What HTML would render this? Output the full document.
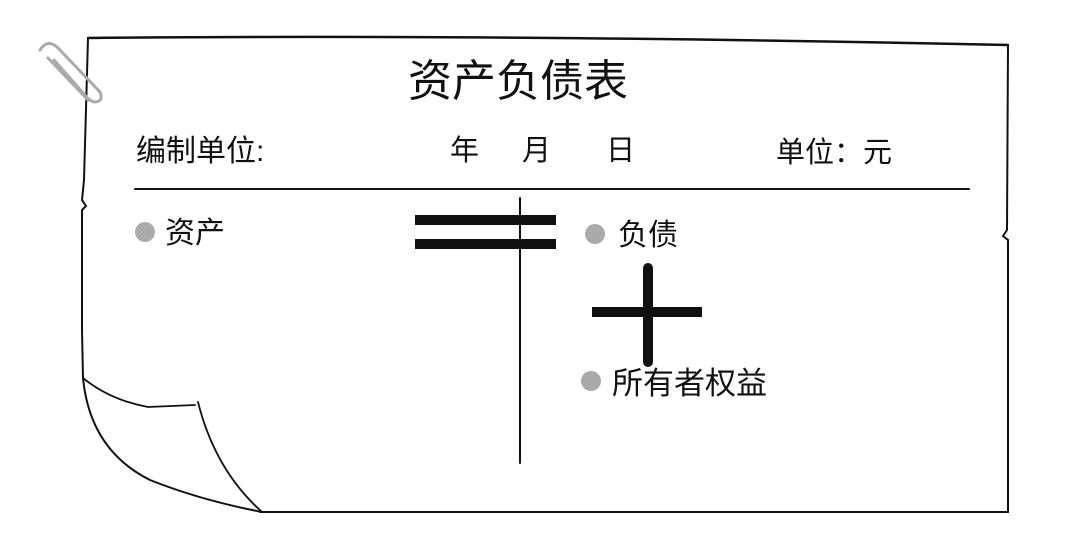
<!DOCTYPE html>
<html><head><meta charset="utf-8"><style>
html,body{margin:0;padding:0;background:#fff;}
body{width:1080px;height:540px;position:relative;overflow:hidden;font-family:"Liberation Sans","Noto Sans CJK SC",sans-serif;color:#111;}
.t{position:absolute;white-space:nowrap;line-height:1;}
</style></head><body>
<svg width="1080" height="540" style="position:absolute;left:0;top:0" fill="none" stroke="#111" stroke-linecap="round">
<path d="M88,38 Q500,34 1008,45" stroke-width="2.5"/>
<path d="M1008,45 L1007,230 L1003,236 L1008,240 L1008,512" stroke-width="2"/>
<path d="M260,512 L1008,512" stroke-width="2"/>
<path d="M88,38 L84,180 L82,200 L86,206 L82,210 L82,330 L83,378" stroke-width="2"/>
<path d="M83,378 Q90,450 150,480 Q200,500 262,512" stroke-width="2"/>
<path d="M83,378 Q110,400 148,407 L195,405" stroke-width="1.8"/>
<path d="M198,402 Q215,470 262,512" stroke-width="1.8"/>
<g stroke="#aaa" stroke-width="3">
<path d="M40,50 Q48,38 58,48 L100,92 Q104,102 94,102 Q88,100 84,94 L54,60"/>
<path d="M48,58 L88,100"/>
</g>
<path d="M135,189 L969,189" stroke-width="2"/>
<path d="M520,198 L520,463" stroke-width="2"/>
<g stroke-width="10" stroke-linecap="butt">
<path d="M415,220 L556,220"/><path d="M415,244 L556,244"/>
<path d="M592,312 L702,312"/><path d="M648,268 L648,362" stroke-linecap="round"/>
</g>
<g fill="#aaa" stroke="none">
<circle cx="145" cy="232" r="10"/><circle cx="595" cy="234" r="10"/><circle cx="591" cy="381" r="10"/>
</g>
</svg>
<div class="t" style="left:408px;top:60px;font-size:44px;">资产负债表</div>
<div class="t" style="left:136px;top:137px;font-size:30px;">编制单位:</div>
<div class="t" style="left:450px;top:137px;font-size:29px;">年</div>
<div class="t" style="left:522px;top:137px;font-size:29px;">月</div>
<div class="t" style="left:606px;top:137px;font-size:29px;">日</div>
<div class="t" style="left:776px;top:139px;font-size:29px;">单位：元</div>
<div class="t" style="left:165px;top:219px;font-size:30px;">资产</div>
<div class="t" style="left:618px;top:221px;font-size:30px;">负债</div>
<div class="t" style="left:612px;top:368px;font-size:31px;">所有者权益</div>
</body></html>
